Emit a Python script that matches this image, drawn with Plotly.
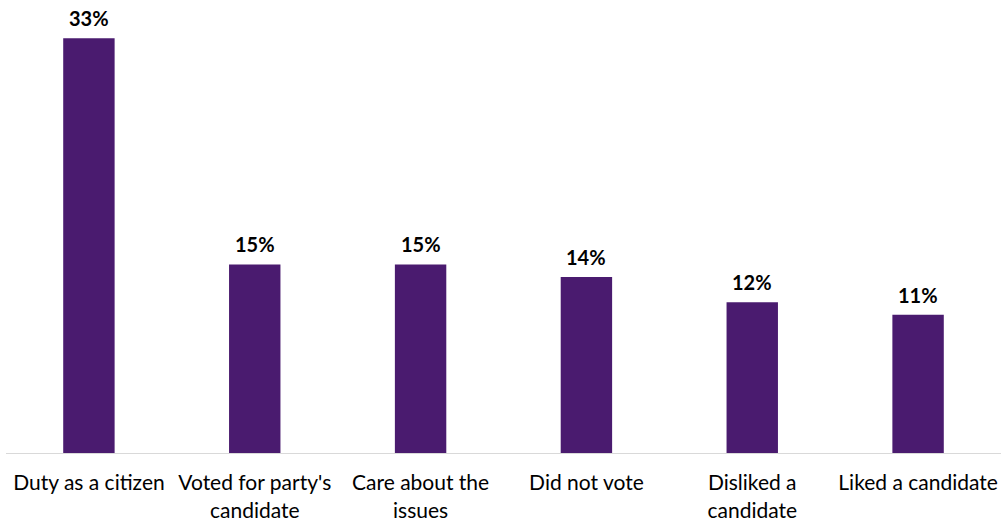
import plotly.graph_objects as go

categories = ["Duty as a citizen", "Voted for party's<br>candidate", "Care about the<br>issues",
              "Did not vote", "Disliked a<br>candidate", "Liked a candidate"]
values = [33, 15, 15, 14, 12, 11]
labels = [f"{v}%" for v in values]

fig = go.Figure(go.Bar(
    x=categories, y=values,
    marker=dict(color="#4A1B6F", line=dict(width=0)),
    cliponaxis=False,
))
for c, v, t in zip(categories, values, labels):
    fig.add_annotation(x=c, y=v, text=f"<b>{t}</b>", showarrow=False, yanchor="bottom", yshift=6,
                       font=dict(family="Lato", size=20, color="#000000"))
fig.update_layout(
    width=1001, height=521,
    margin=dict(l=6, r=0, t=13, b=68),
    paper_bgcolor="white", plot_bgcolor="white",
    bargap=0.69, showlegend=False,
    font=dict(family="Lato", size=21, color="#000000"),
    xaxis=dict(showline=True, linecolor="#D9D9D9", linewidth=1, ticks="", automargin=False,
               ticklabelstandoff=11,
               tickfont=dict(family="Lato", size=21, color="#000000"), showgrid=False),
    yaxis=dict(range=[0, 35], visible=False, showgrid=False, automargin=False),
)
fig.write_html("out.html", config={"displayModeBar": False},
               post_script="document.body.style.margin='0';")
